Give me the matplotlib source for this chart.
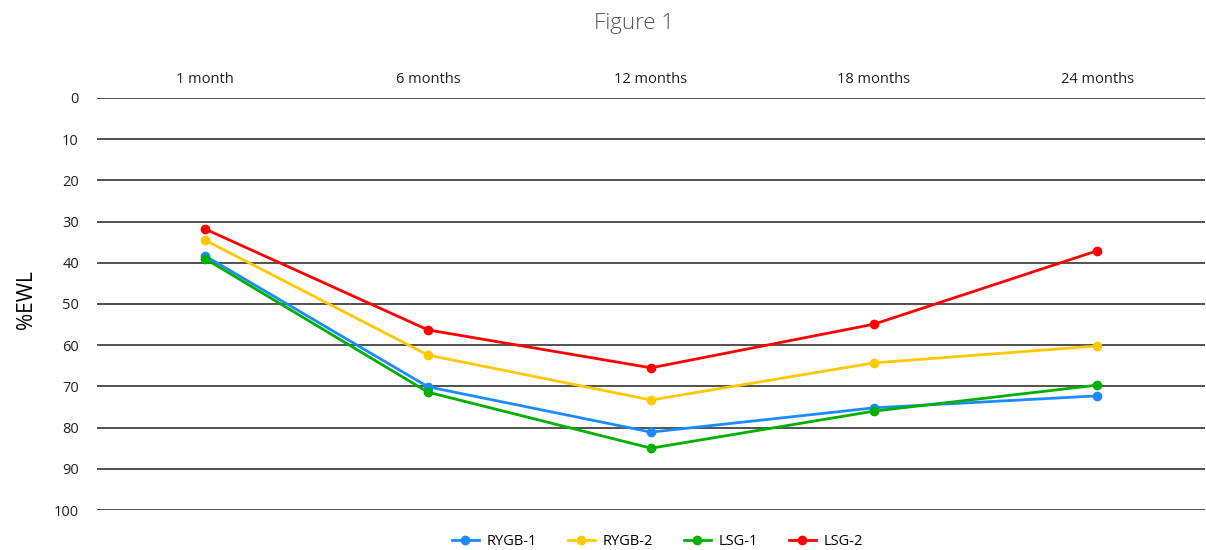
import matplotlib
matplotlib.use("Agg")
import matplotlib.pyplot as plt

plt.rcParams['font.family'] = ['Open Sans', 'DejaVu Sans']

categories = ["1 month", "6 months", "12 months", "18 months", "24 months"]
rygb_1 = [38.3, 70.1, 81.1, 75.2, 72.3]
rygb_2 = [34.5, 62.4, 73.3, 64.3, 60.2]
lsg_1 = [39.0, 71.4, 85.0, 76.0, 69.7]
lsg_2 = [31.8, 56.3, 65.5, 54.9, 37.1]
y_ticks = [0, 10, 20, 30, 40, 50, 60, 70, 80, 90, 100]

series = [
    ("RYGB-1", rygb_1, "#1a8cff"),
    ("RYGB-2", rygb_2, "#ffc800"),
    ("LSG-1", lsg_1, "#00b000"),
    ("LSG-2", lsg_2, "#ff0000"),
]

fig = plt.figure(figsize=(12.06, 5.5), dpi=100)
ax = fig.add_axes([0.0804, 0.0727, 0.919, 0.7493])

x = list(range(len(categories)))
for name, vals, color in series:
    ax.plot(x, vals, color=color, lw=2, marker="o", markersize=6, label=name, zorder=3)

ax.set_ylim(100, 0)
ax.set_xlim(-0.484, 4.485)
ax.set_yticks(y_ticks)
ax.yaxis.grid(True, color="#333333", lw=1.2)
ax.set_axisbelow(True)
ax.tick_params(axis="y", length=0, pad=13, labelsize=10.5, labelcolor="#222222")
ax.xaxis.tick_top()
ax.set_xticks(x)
ax.set_xticklabels(categories)
ax.tick_params(axis="x", length=0, pad=8, labelsize=10.5, labelcolor="#222222")
for s in ax.spines.values():
    s.set_visible(False)

ax.set_ylabel("%EWL", fontsize=15)
ax.yaxis.set_label_coords(-0.054, 0.51)
fig.text(0.526, 0.958, "Figure 1", ha="center", va="center", fontsize=16,
         color="#555555", fontweight="light")

fig.legend(loc="center", ncol=4, frameon=False, fontsize=10.5,
           bbox_to_anchor=(0.545, 0.016), handlelength=1.9, handletextpad=0.5,
           columnspacing=2.1)

fig.savefig("out.png", dpi=100)
